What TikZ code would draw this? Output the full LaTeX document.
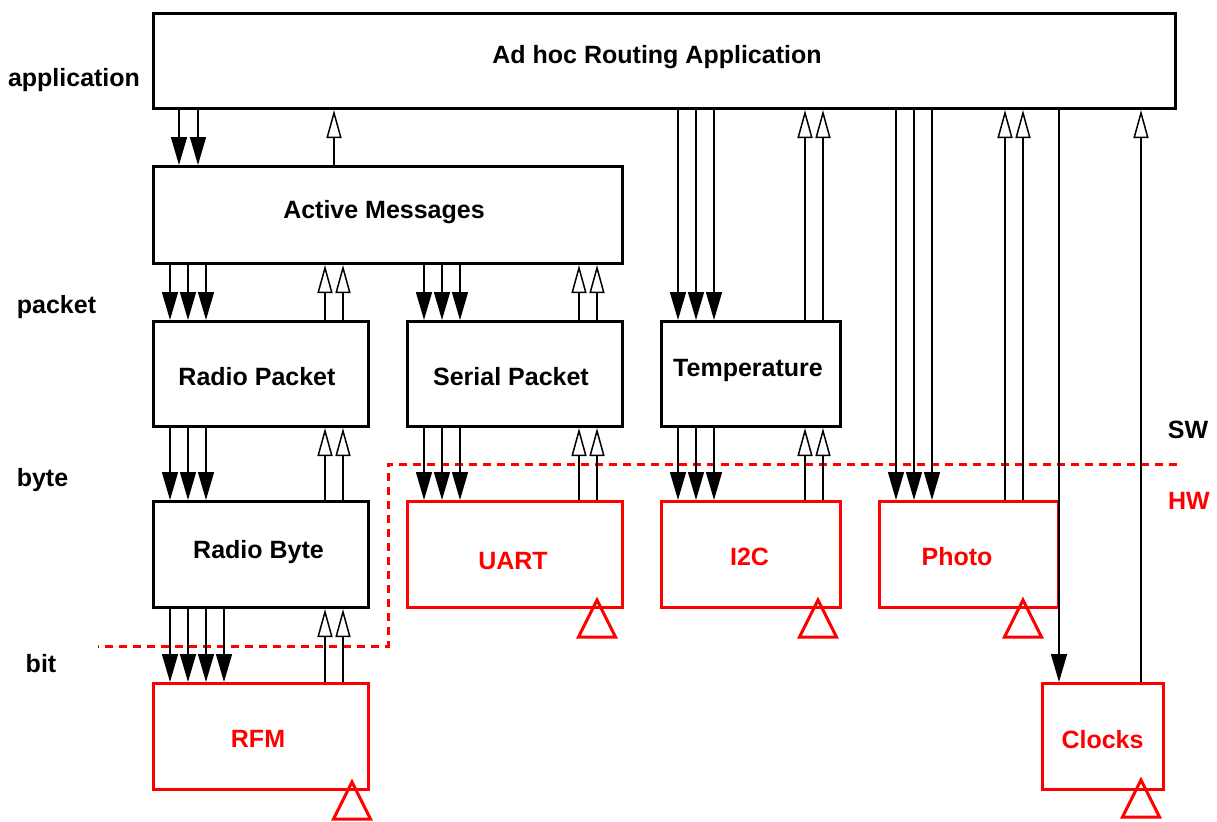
\documentclass[tikz,border=0pt]{standalone}
\usepackage{fontspec}
\setmainfont{Liberation Sans}
\usetikzlibrary{arrows.meta}

\begin{document}
\begin{tikzpicture}[x=0.5pt,y=-0.5pt,
    font=\fontsize{12.5}{15}\selectfont\bfseries,
    blk/.style={draw,line width=1.5pt,inner sep=0pt},
    hw/.style={blk,draw=red},
    lbl/.style={anchor=base,inner sep=0pt},
    cmd/.style={line width=0.75pt,-{Triangle[length=14pt,width=8pt]}},
    evt/.style={line width=0.75pt,-{Triangle[open,length=14pt,width=7.5pt]}},
    tri/.style={draw=red,line width=1.5pt},
    bound/.style={red,line width=1.5pt,dash pattern=on 4pt off 3pt}]
    \useasboundingbox (0,0) rectangle (1217,821);
    % software components
    \node[blk,minimum width=511pt,minimum height=47.5pt]   (app)   at (664.5,61)  {};
    \node[blk,minimum width=234.5pt,minimum height=48.5pt] (am)    at (388,215)   {};
    \node[blk,minimum width=107.5pt,minimum height=52.5pt] (rpkt)  at (261,374)   {};
    \node[blk,minimum width=107.5pt,minimum height=52.5pt] (spkt)  at (515,374)   {};
    \node[blk,minimum width=89.5pt,minimum height=52.5pt]  (temp)  at (751,374)   {};
    \node[blk,minimum width=107.5pt,minimum height=53pt]   (rbyte) at (261,554.5) {};
    % hardware components
    \node[hw,minimum width=107.5pt,minimum height=53pt]    (uart)  at (515,554.5) {};
    \node[hw,minimum width=89.5pt,minimum height=53pt]     (itwoc) at (751,554.5) {};
    \node[hw,minimum width=89.5pt,minimum height=53pt]     (photo) at (969,554.5) {};
    \node[hw,minimum width=107.5pt,minimum height=53pt]    (rfm)   at (261,736.5) {};
    \node[hw,minimum width=60.5pt,minimum height=53pt]     (clocks) at (1103,736.5) {};
    % names
    \node[lbl] (app_l)   at (657,63)    {Ad hoc Routing Application};
    \node[lbl] (am_l)    at (384,218)   {Active Messages};
    \node[lbl] (rpkt_l)  at (257,385)   {Radio Packet};
    \node[lbl] (spkt_l)  at (511,385)   {Serial Packet};
    \node[lbl] (temp_l)  at (748,376)   {Temperature};
    \node[lbl] (rbyte_l) at (258.5,558) {Radio Byte};
    \node[lbl,red] (uart_l)   at (513,569)    {UART};
    \node[lbl,red] (itwoc_l)  at (749.5,565)  {I2C};
    \node[lbl,red] (photo_l)  at (957,565)    {Photo};
    \node[lbl,red] (rfm_l)    at (258,747)    {RFM};
    \node[lbl,red] (clocks_l) at (1102.5,748) {Clocks};
    % levels
    \node[lbl] (lv_app) at (74,86)   {application};
    \node[lbl] (lv_pkt) at (56.5,313) {packet};
    \node[lbl] (lv_byte) at (42.5,486) {byte};
    \node[lbl] (lv_bit) at (41,672)  {bit};
    \node[lbl] (sw_l) at (1188,438) {SW};
    \node[lbl,red] (hw_l) at (1189,509) {HW};
    % hw/sw boundary
    \draw[bound] (1177,464) -- (388,464) -- (388,646) -- (98,646);
    % commands (down) and events (up)
    \foreach \x in {179,198} \draw[cmd] (\x,0 |- app.south) -- (\x,0 |- am.north);
    \draw[evt] (334,0 |- am.north) -- (334,0 |- app.south);
    \foreach \x in {170,188,206} {
      \draw[cmd] (\x,0 |- am.south) -- (\x,0 |- rpkt.north);
      \draw[cmd] (\x,0 |- rpkt.south) -- (\x,0 |- rbyte.north);
    }
    \foreach \x in {325,343} {
      \draw[evt] (\x,0 |- rpkt.north) -- (\x,0 |- am.south);
      \draw[evt] (\x,0 |- rbyte.north) -- (\x,0 |- rpkt.south);
      \draw[evt] (\x,0 |- rfm.north) -- (\x,0 |- rbyte.south);
    }
    \foreach \x in {170,188,206,224} \draw[cmd] (\x,0 |- rbyte.south) -- (\x,0 |- rfm.north);
    \foreach \x in {424,442,460} {
      \draw[cmd] (\x,0 |- am.south) -- (\x,0 |- spkt.north);
      \draw[cmd] (\x,0 |- spkt.south) -- (\x,0 |- uart.north);
    }
    \foreach \x in {579,597} {
      \draw[evt] (\x,0 |- spkt.north) -- (\x,0 |- am.south);
      \draw[evt] (\x,0 |- uart.north) -- (\x,0 |- spkt.south);
    }
    \foreach \x in {678,696,714} {
      \draw[cmd] (\x,0 |- app.south) -- (\x,0 |- temp.north);
      \draw[cmd] (\x,0 |- temp.south) -- (\x,0 |- itwoc.north);
    }
    \foreach \x in {805,823} {
      \draw[evt] (\x,0 |- temp.north) -- (\x,0 |- app.south);
      \draw[evt] (\x,0 |- itwoc.north) -- (\x,0 |- temp.south);
    }
    \foreach \x in {896,914,932} \draw[cmd] (\x,0 |- app.south) -- (\x,0 |- photo.north);
    \foreach \x in {1005,1023} \draw[evt] (\x,0 |- photo.north) -- (\x,0 |- app.south);
    \draw[cmd] (1059,0 |- app.south) -- (1059,0 |- clocks.north);
    \draw[evt] (1141,0 |- clocks.north) -- (1141,0 |- app.south);
    % hardware marks
    \foreach \b/\dx/\dy in {uart/-27/-9,itwoc/-24/-9,photo/-37/-9,rfm/-18/-9,clocks/-24/-11}
      \draw[tri] (\b.south east) ++(\dx,\dy) -- ++(18.5,37) -- ++(-37,0) -- cycle;
\end{tikzpicture}
\end{document}
